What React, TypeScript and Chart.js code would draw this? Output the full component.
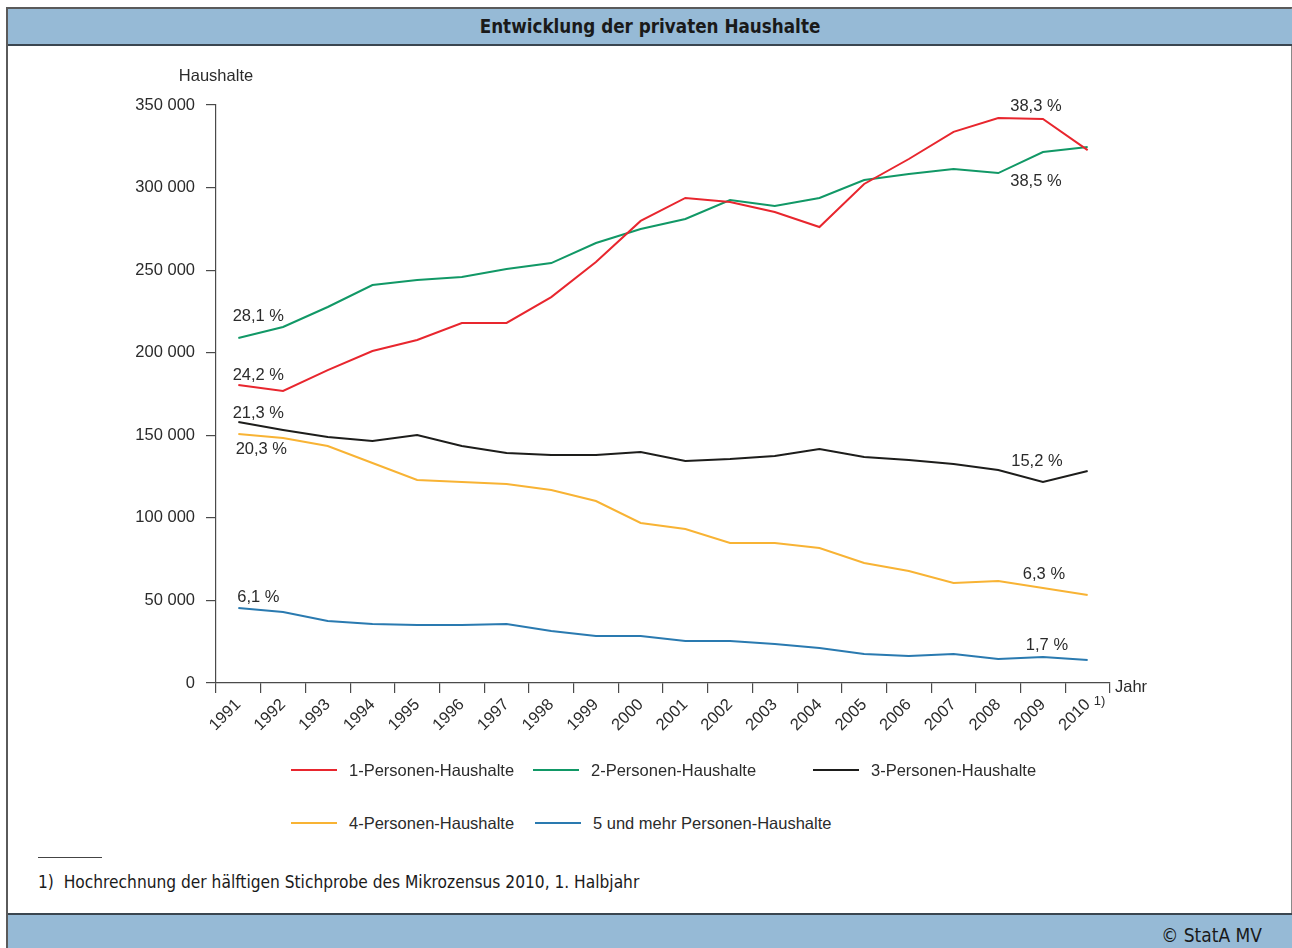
import React, { useEffect, useRef } from "react";
import { Chart, registerables } from "chart.js";

Chart.register(...registerables);

const years = ["1991", "1992", "1993", "1994", "1995", "1996", "1997", "1998", "1999", "2000", "2001", "2002", "2003", "2004", "2005", "2006", "2007", "2008", "2009", "2010"];

const onePerson = [180500, 176800, 189500, 201000, 207700, 218000, 218000, 233700, 254900, 279800, 293700, 291300, 285200, 276100, 302200, 317300, 333700, 342100, 341500, 322700];
const twoPerson = [208900, 215600, 227700, 241000, 244000, 245800, 250700, 254300, 266400, 274900, 281000, 292500, 288800, 293700, 304600, 308200, 311200, 308800, 321500, 324600];
const threePerson = [158000, 153200, 149000, 146500, 150200, 143500, 139300, 138100, 138100, 139900, 134400, 135600, 137500, 141700, 136800, 135000, 132600, 129000, 121700, 128400];
const fourPerson = [150800, 148400, 143500, 133200, 122900, 121700, 120500, 116900, 110200, 96900, 93300, 84800, 84800, 81700, 72700, 67800, 60600, 61800, 57500, 53300];
const fivePlus = [45400, 43000, 37500, 35700, 35100, 35100, 35700, 31500, 28500, 28500, 25400, 25400, 23600, 21200, 17600, 16400, 17600, 14500, 15700, 13900];

const seriesNames = ["1-Personen-Haushalte", "2-Personen-Haushalte", "3-Personen-Haushalte", "4-Personen-Haushalte", "5 und mehr Personen-Haushalte"];
const seriesColors = ["#e8262e", "#119866", "#1d1d1b", "#f8b334", "#2a7ab0"];
const seriesValues = [onePerson, twoPerson, threePerson, fourPerson, fivePlus];

const yMin = 0;
const yMax = 350000;
const yStep = 50000;

// percentage annotations: text, series index, point index, pixel offset
const annotations = [
  { text: "28,1 %", series: 1, index: 0, dx: 20, dy: -22 },
  { text: "24,2 %", series: 0, index: 0, dx: 20, dy: -9 },
  { text: "21,3 %", series: 2, index: 0, dx: 20, dy: -9 },
  { text: "20,3 %", series: 3, index: 0, dx: 23, dy: 15 },
  { text: "6,1 %", series: 4, index: 0, dx: 20, dy: -11 },
  { text: "38,3 %", series: 0, index: 18, dx: -7, dy: -13 },
  { text: "38,5 %", series: 1, index: 18, dx: -7, dy: 29 },
  { text: "15,2 %", series: 2, index: 18, dx: -6, dy: -21 },
  { text: "6,3 %", series: 3, index: 18, dx: 1, dy: -14 },
  { text: "1,7 %", series: 4, index: 18, dx: 4, dy: -12 },
];

const legendPos = [
  { x: 291, y: 770 },
  { x: 533, y: 770 },
  { x: 813, y: 770 },
  { x: 291, y: 823 },
  { x: 535, y: 823 },
];

const SANS = "'Liberation Sans', Arial, Helvetica, sans-serif";
const NARROW = "'Liberation Sans Narrow', 'DejaVu Sans Condensed', 'Liberation Sans', sans-serif";
const TEXT = "#2b2b2b";
const AXIS = "#4a4a4a";
const BAR = "#96bad6";
const FS = 16.5;

const CANVAS_TOP = 47;
const CANVAS_H = 714;

const extraText = {
  id: "extraText",
  afterDraw(chart: any) {
    const ctx = chart.ctx;
    const area = chart.chartArea;
    ctx.save();
    ctx.fillStyle = TEXT;
    ctx.font = `${FS}px ${SANS}`;
    ctx.textBaseline = "middle";
    ctx.textAlign = "center";
    ctx.fillText("Haushalte", area.left, area.top - 29);
    ctx.textAlign = "left";
    ctx.fillText("Jahr", area.right + 5, area.bottom + 4);
    // footnote marker after last year label
    const xs = chart.scales.x;
    const lastX = xs.getPixelForValue(years.length - 1);
    ctx.font = `13px ${SANS}`;
    ctx.fillText("1)", lastX + 6, area.bottom + 18);
    // percentage annotations
    ctx.font = `${FS}px ${SANS}`;
    ctx.textAlign = "center";
    annotations.forEach((a) => {
      const meta = chart.getDatasetMeta(a.series);
      const pt = meta.data[a.index];
      if (!pt) return;
      ctx.fillText(a.text, pt.x + a.dx, pt.y + a.dy);
    });
    ctx.restore();
  },
};

function fmt(v: number) {
  return String(v).replace(/\B(?=(\d{3})+(?!\d))/g, " ");
}

export default function App() {
  const ref = useRef<HTMLCanvasElement | null>(null);

  useEffect(() => {
    if (!ref.current) return;
    const chart = new Chart(ref.current, {
      type: "line",
      data: {
        labels: years,
        datasets: seriesValues.map((vals, i) => ({
          label: seriesNames[i],
          data: vals,
          borderColor: seriesColors[i],
          backgroundColor: seriesColors[i],
          borderWidth: 2,
          pointRadius: 0,
          tension: 0,
          fill: false,
        })),
      },
      options: {
        responsive: false,
        animation: false,
        layout: { padding: { top: 58, left: 0, right: 182, bottom: 0 } },
        plugins: {
          legend: { display: false },
          title: { display: false },
          tooltip: { enabled: false },
        },
        scales: {
          x: {
            type: "category",
            offset: true,
            grid: {
              offset: true,
              drawOnChartArea: false,
              drawTicks: true,
              tickLength: 10,
              color: AXIS,
              lineWidth: 1.2,
            },
            border: { display: true, color: AXIS, width: 1.2 },
            ticks: {
              color: TEXT,
              font: { family: SANS, size: FS },
              minRotation: 45,
              maxRotation: 45,
              autoSkip: false,
              padding: 2,
            },
            afterFit(scale: any) {
              scale.height = 78;
            },
          },
          y: {
            min: yMin,
            max: yMax,
            grid: {
              drawOnChartArea: false,
              drawTicks: true,
              tickLength: 10,
              color: AXIS,
              lineWidth: 1.2,
            },
            border: { display: true, color: AXIS, width: 1.2 },
            ticks: {
              stepSize: yStep,
              color: TEXT,
              font: { family: SANS, size: FS },
              padding: 11,
              callback: (v: any) => fmt(Number(v)),
            },
            afterFit(scale: any) {
              scale.width = 216;
            },
          },
        },
      },
      plugins: [extraText],
    });
    return () => chart.destroy();
  }, []);

  return (
    <div style={{ position: "absolute", left: 0, top: 0, width: 1292, height: 948, overflow: "hidden", background: "#fff" }}>
      {/* frame */}
      <div style={{ position: "absolute", left: 6, top: 7, width: 1283, height: 960, borderLeft: "2px solid #5a5a5a", borderTop: "2px solid #5a5a5a", borderRight: "2px solid #8a8a8a" }} />
      {/* title bar */}
      <div style={{ position: "absolute", left: 8, top: 9, width: 1284, height: 35, background: BAR, borderBottom: "2px solid #3a4650", display: "flex", alignItems: "center", justifyContent: "center", fontFamily: NARROW, fontWeight: 700, fontSize: 18.7, color: "#1a1a1a" }}>
        Entwicklung der privaten Haushalte
      </div>
      <canvas ref={ref} width={1292} height={CANVAS_H} style={{ position: "absolute", left: 0, top: CANVAS_TOP, width: 1292, height: CANVAS_H }} />
      {/* legend */}
      {seriesNames.map((name, i) => (
        <div key={name} style={{ position: "absolute", left: legendPos[i].x, top: legendPos[i].y - 10, height: 20, display: "flex", alignItems: "center", fontFamily: SANS, fontSize: FS, color: TEXT, whiteSpace: "nowrap" }}>
          <span style={{ display: "inline-block", width: 46, height: 2, background: seriesColors[i], marginRight: 12 }} />
          <span>{name}</span>
        </div>
      ))}
      {/* footnote */}
      <div style={{ position: "absolute", left: 38, top: 857, width: 64, height: 1, background: "#444" }} />
      <div style={{ position: "absolute", left: 38, top: 871, fontFamily: NARROW, fontSize: 17.2, color: "#1a1a1a", whiteSpace: "nowrap", lineHeight: "22px" }}>
        1)&nbsp;&nbsp;Hochrechnung der hälftigen Stichprobe des Mikrozensus 2010, 1. Halbjahr
      </div>
      {/* bottom bar */}
      <div style={{ position: "absolute", left: 8, top: 913, width: 1284, height: 40, background: BAR, borderTop: "2px solid #3a4650" }} />
      <div style={{ position: "absolute", right: 30, top: 923, fontFamily: NARROW, fontSize: 19, color: "#1a1a1a", whiteSpace: "nowrap", lineHeight: "24px" }}>
        © StatA MV
      </div>
    </div>
  );
}
